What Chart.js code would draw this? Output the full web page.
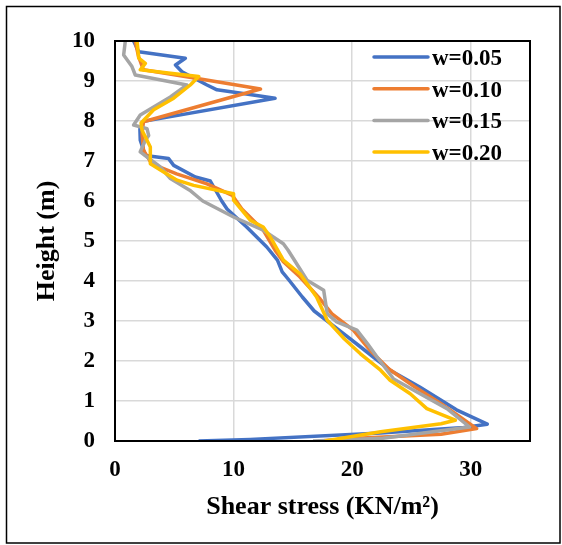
<!DOCTYPE html>
<html>
<head>
<meta charset="utf-8">
<script src="https://cdn.jsdelivr.net/npm/chart.js@4.4.1/dist/chart.umd.min.js"></script>
<style>
  html, body { margin: 0; padding: 0; background: #fff; }
  #wrap { width: 562px; height: 545px; position: relative; }
</style>
</head>
<body>
<div id="wrap"><canvas id="shearChart"></canvas></div>
<script>
// series names
const seriesLabels = ["w=0.05", "w=0.10", "w=0.15", "w=0.20"];
const seriesColors = ["#4472C4", "#ED7D31", "#A5A5A5", "#FFC000"];

// w=0.05  (shear stress KN/m2, height m)
const stress05 = [7.05, 11.4, 22.4, 29.4, 31.4, 28.8, 25.7, 23.2, 22.0, 20.5, 19.3, 16.8, 15.8, 14.6, 14.1, 13.7, 12.8, 11.1, 9.45, 9.0, 8.04, 6.78, 4.95, 4.52, 2.56, 2.13, 2.1, 2.4, 13.5, 10.8, 8.6, 7.76, 5.65, 5.1, 5.93, 2.0, 1.57];
const height05 = [0, 0.04, 0.2, 0.34, 0.42, 0.78, 1.35, 1.77, 2.05, 2.4, 2.68, 3.25, 3.6, 4.05, 4.23, 4.52, 4.85, 5.35, 5.8, 6.0, 6.5, 6.6, 6.89, 7.06, 7.14, 7.52, 7.8, 7.99, 8.57, 8.69, 8.78, 8.9, 9.23, 9.4, 9.57, 9.73, 10];

// w=0.10
const stress10 = [17.3, 20.0, 27.5, 30.5, 29.1, 27.5, 25.3, 23.1, 21.5, 20.1, 18.3, 17.3, 15.6, 14.2, 13.5, 12.5, 10.7, 9.9, 7.76, 5.2, 3.1, 2.4, 2.28, 2.4, 12.27, 7.2, 2.4, 2.0, 1.7];
const height10 = [0, 0.06, 0.17, 0.31, 0.6, 0.93, 1.35, 1.8, 2.27, 2.77, 3.18, 3.55, 4.1, 4.48, 4.77, 5.27, 5.8, 6.14, 6.43, 6.68, 6.93, 7.27, 7.69, 7.98, 8.8, 9.05, 9.28, 9.6, 10];

// w=0.15
const stress15 = [16.7, 22.6, 29.9, 28.0, 25.2, 23.5, 22.1, 21.3, 20.4, 18.7, 17.9, 17.6, 16.2, 14.6, 14.2, 12.5, 10.0, 7.4, 6.3, 4.67, 3.82, 2.13, 2.56, 2.84, 2.7, 1.57, 2.13, 4.67, 6.07, 1.71, 1.43, 0.73, 0.87];
const height15 = [0, 0.07, 0.35, 0.81, 1.27, 1.55, 2.1, 2.43, 2.77, 2.98, 3.18, 3.77, 4.02, 4.77, 4.93, 5.27, 5.6, 6.0, 6.27, 6.56, 6.85, 7.23, 7.52, 7.64, 7.81, 7.9, 8.15, 8.6, 8.9, 9.15, 9.36, 9.65, 10];

// w=0.20
const stress20 = [17.7, 22.4, 27.5, 28.7, 26.3, 24.9, 23.2, 22.4, 20.7, 19.35, 17.9, 17.0, 15.6, 14.2, 13.1, 12.5, 11.4, 10.0, 10.0, 6.63, 5.23, 2.98, 2.98, 2.28, 2.2, 3.26, 4.95, 6.35, 7.06, 2.13, 2.56, 2.0, 1.86];
const height20 = [0, 0.23, 0.43, 0.52, 0.81, 1.18, 1.52, 1.77, 2.18, 2.55, 3.02, 3.6, 4.18, 4.52, 5.1, 5.35, 5.52, 6.02, 6.18, 6.39, 6.52, 6.93, 7.35, 7.77, 7.95, 8.28, 8.57, 8.9, 9.11, 9.28, 9.44, 9.57, 10];

const xTicks = [0, 10, 20, 30];
const yTicks = [0, 1, 2, 3, 4, 5, 6, 7, 8, 9, 10];

const stressSets = [stress05, stress10, stress15, stress20];
const heightSets = [height05, height10, height15, height20];

const serif = "'Liberation Serif', 'Times New Roman', serif";

// plot frame, outer border and in-plot legend
const framePlugin = {
  id: "frame",
  afterDraw(chart) {
    const ctx = chart.ctx;
    const a = chart.chartArea;
    ctx.save();
    ctx.strokeStyle = "#000";
    ctx.lineWidth = 2;
    ctx.strokeRect(a.left, a.top, a.right - a.left, a.bottom - a.top);
    ctx.lineWidth = 1.5;
    ctx.strokeRect(6.5, 6.5, 553.5, 536.5);

    ctx.font = "bold 23px " + serif;
    ctx.textBaseline = "alphabetic";
    chart.data.datasets.forEach((ds, i) => {
      const y = a.top + 16 + i * 31.7;
      ctx.strokeStyle = ds.borderColor;
      ctx.lineWidth = 3.5;
      ctx.lineCap = "round";
      ctx.beginPath();
      ctx.moveTo(a.right - 156, y);
      ctx.lineTo(a.right - 102, y);
      ctx.stroke();
      ctx.fillStyle = "#000";
      ctx.fillText(ds.label, a.right - 98, y + 8);
    });
    ctx.restore();
  }
};

new Chart(document.getElementById("shearChart"), {
  type: "line",
  data: {
    datasets: seriesLabels.map((lab, i) => ({
      label: lab,
      data: stressSets[i].map((v, j) => ({ x: v, y: heightSets[i][j] })),
      borderColor: seriesColors[i],
      backgroundColor: seriesColors[i],
      borderWidth: 3.5,
      borderJoinStyle: "round",
      pointRadius: 0,
      tension: 0,
      fill: false,
      order: 3 - i
    }))
  },
  options: {
    responsive: true,
    maintainAspectRatio: false,
    animation: false,
    layout: { padding: { top: 41, right: 32, left: 0, bottom: 0 } },
    plugins: { legend: { display: false }, tooltip: { enabled: false } },
    scales: {
      x: {
        type: "linear",
        min: 0,
        max: 35,
        afterBuildTicks: s => { s.ticks = xTicks.map(v => ({ value: v })); },
        afterFit: s => { s.height = 104; s.paddingLeft = 0; s.paddingRight = 0; },
        grid: { color: "#d9d9d9", lineWidth: 1.5, drawTicks: false },
        border: { color: "#000", width: 2 },
        ticks: { color: "#000", padding: 15, maxRotation: 0, font: { family: serif, size: 23, weight: "bold" } },
        title: {
          display: true,
          text: "Shear stress (KN/m²)",
          color: "#000",
          padding: { top: 0, bottom: 22 },
          font: { family: serif, size: 26, weight: "bold" }
        }
      },
      y: {
        type: "linear",
        min: 0,
        max: 10,
        afterBuildTicks: s => { s.ticks = yTicks.map(v => ({ value: v })); },
        afterFit: s => { s.width = 115; s.paddingTop = 0; s.paddingBottom = 0; },
        grid: { color: "#d9d9d9", lineWidth: 1.5, drawTicks: false },
        border: { color: "#000", width: 2 },
        ticks: { color: "#000", padding: 20, font: { family: serif, size: 23, weight: "bold" } },
        title: {
          display: true,
          text: "Height (m)",
          color: "#000",
          padding: { top: 32, bottom: 0 },
          font: { family: serif, size: 26, weight: "bold" }
        }
      }
    }
  },
  plugins: [framePlugin]
});
</script>
</body>
</html>
